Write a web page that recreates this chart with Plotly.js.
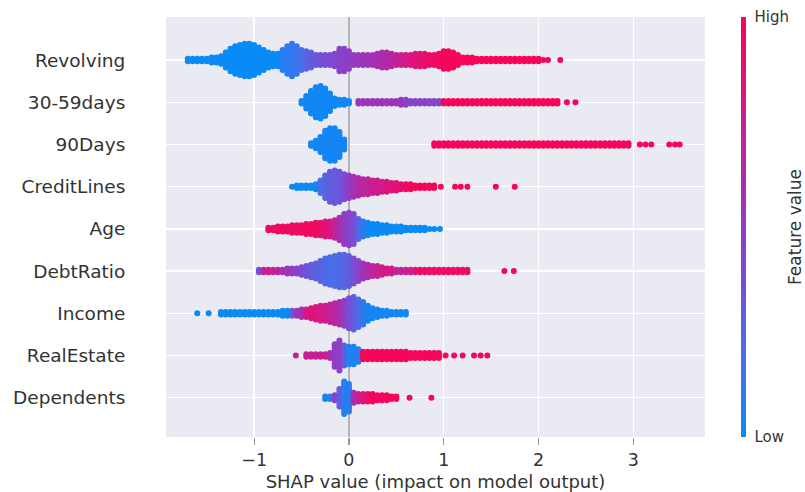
<!DOCTYPE html>
<html><head><meta charset="utf-8">
<script src="https://cdn.plot.ly/plotly-3.0.1.min.js"></script>
<style>html,body{margin:0;padding:0;background:#fff}#chart{width:805px;height:492px}</style>
</head><body><div id="chart"></div>
<script>
// Each feature: density bins of width binWidth (SHAP value), starting at *Start.
// *Counts = number of stacked samples in the bin, *Colors = mean feature value (0 low .. 1 high)
const features = ['Revolving','30-59days','90Days','CreditLines','Age','DebtRatio','Income','RealEstate','Dependents'];
const binWidth = 0.05;

const revolvingStart = -1.70;
const revolvingCounts = [2,2,2,2,2,3,3,4,7,10, 12,13,14,14,13,11,9,7,6,6, 9,12,14,12,9,8,7,5,5,5, 5,6,10,10,8,5,5,5,5,5, 6,7,7,6,5,5,5,5,6,6, 6,5,5,6,8,8,7,5,3,3, 3,2,2,2,2,2,2,2,2,2, 2,2,2,2,2,1,1];
const revolvingColors = [0,0,0,0,0,0,0,0,0,0, 0,0,0,0,0,0,0,0,0,0, 0.08,0.1,0.12,0.15,0.2,0.25,0.3,0.33,0.35,0.38, 0.4,0.42,0.45,0.47,0.48,0.5,0.52,0.54,0.56,0.58, 0.6,0.62,0.65,0.68,0.72,0.76,0.8,0.84,0.88,0.9, 0.92,0.94,0.96,0.98,1,1,1,1,1,1, 1,1,1,1,1,1,1,1,1,1, 1,1,1,1,1,1,1];
const revolvingOutliers = [2.23];
const revolvingOutlierColors = [1];

const days3059Start = -0.50;
const days3059Counts = [2,6,10,13,14,12,8,4,3,3, 2,0, 2,2,2,2,2,2,2,2,2,3, 3,2,2,2,2,2,2,2, 2,2,2,2,2,2,2,2,2,2,2,2,2,2,2,2,2,2,2,2,2,2,2,2,2];
const days3059Colors = [0.02,0.02,0.02,0.02,0.02,0.02,0.02,0.02,0.02,0.02, 0.02,0, 0.55,0.55,0.55,0.55,0.55,0.55,0.55,0.55,0.55,0.55, 0.45,0.45,0.45,0.45,0.45,0.45,0.45,0.45, 1,1,1,1,1,1,1,1,1,1,1,1,1,1,1,1,1,1,1,1,1,1,1,1,1];
const days3059Outliers = [2.30, 2.39];
const days3059OutlierColors = [1, 1];

const days90Start = -0.40;
const days90Counts = [2,4,7,12,14,14,11,5,
  0,0,0,0,0,0,0,0,0,0, 0,0,0,0,0,0,0,0,
  2,2,2,2,2,2,2,2,2,2, 2,2,2,2,2,2,2,2,2,2, 2,2,2,2,2,2,2,2,2,2, 2,2,2,2,2,2,2,2,2,2, 2,2];
const days90Colors = [0.03,0.03,0.03,0.03,0.03,0.03,0.03,0.03,
  0,0,0,0,0,0,0,0,0,0, 0,0,0,0,0,0,0,0,
  1,1,1,1,1,1,1,1,1,1, 1,1,1,1,1,1,1,1,1,1, 1,1,1,1,1,1,1,1,1,1, 1,1,1,1,1,1,1,1,1,1, 1,1];
const days90Outliers = [3.07, 3.13, 3.19, 3.38, 3.44, 3.49];
const days90OutlierColors = [1,1,1,1,1,1];

const creditLinesStart = -0.60;
const creditLinesCounts = [1,2,2,2,2,3,6,10,13,14, 13,11,10,9,8,7,7,6,6,5, 5,4,4,3,3,3,2,2,2,2,2];
const creditLinesColors = [0,0,0,0,0,0, 0.2,0.25,0.3,0.3,0.33,0.4,0.5,0.58,0.64,0.68,0.72,0.75,0.78,0.8,0.83,0.86,0.9,0.92,0.95, 1,1,1,1,1,1];
const creditLinesOutliers = [0.97, 1.12, 1.18, 1.25, 1.55, 1.75];
const creditLinesOutlierColors = [1,1,1,1,1,1];

const ageStart = -0.85;
const ageCounts = [2,2,3,3,3,4,4,4,5,5, 6,6,7,7,8,10,13,14,13,9, 7,6,5,5,4,4,3,3,3,2, 2,2,2,2,1];
const ageColors = [0.97,0.97,0.97,0.97,0.97,0.97,0.97,0.97,0.97,0.97,0.97, 0.92,0.88,0.82,0.72,0.6,0.5,0.45,0.38,0.25,0.12, 0,0,0,0,0,0,0,0,0,0,0,0,0,0];
const ageOutliers = [0.90, 0.96];
const ageOutlierColors = [0, 0];

const debtRatioStart = -0.95;
const debtRatioCounts = [2,2,2,2,2,2,3,3,3,4, 5,6,7,9,11,12,13,14,14,13, 11,9,7,6,5,5,4,3,3, 2,2,2,2,2,2,2,2,2,2,2,2,2,2,2,2];
const debtRatioColors = [0.35,0.75,0.8,0.7,0.75,0.6,0.55,0.5,0.45,0.4, 0.35,0.3,0.28,0.25,0.22,0.2,0.2,0.22,0.25,0.3, 0.38,0.45,0.55,0.62,0.7,0.75,0.78,0.8,0.82, 0.7,0.75,0.7,0.8,0.85, 0.95,0.95,0.95,0.95,0.95,0.95,0.95,0.95,0.95,0.95,0.95];
const debtRatioOutliers = [1.64, 1.74];
const debtRatioOutlierColors = [1, 1];

const incomeStart = -1.35;
const incomeCounts = [2,2,2,2,2,2,2,2,2,2,2,2,2, 3,3,3,3,4,4,5,6,7,7, 8,9,10,11,13,14,12,10,7,5, 4,3,3,2,2,2,2];
const incomeColors = [0,0,0,0,0,0,0,0,0,0,0,0,0,0,0, 0.3,0.55,0.6,0.8,0.85,0.85,0.8,0.78,0.72,0.68, 0.62,0.5,0.38,0.3,0.22,0.12, 0.03,0.03,0.03,0.03,0.03,0.03,0.03,0.03,0.03];
const incomeOutliers = [-1.60, -1.48];
const incomeOutlierColors = [0, 0];

const realEstateStart = -0.45;
const realEstateCounts = [2,2,2,2,2,3,10,13,9,8, 8,6, 4,4,4,4,4,4,4,4,4,4, 3,3,3,3,3,3,3];
const realEstateColors = [0.75,0.75,0.75,0.75,0.75, 0.6,0.5,0.48,0.3,0.08,0.05,0.1, 1,1,1,1,1,1,1,1,1,1,1,1,1,1,1,1,1];
const realEstateOutliers = [-0.56, 1.02, 1.11, 1.20, 1.32, 1.39, 1.46];
const realEstateOutlierColors = [0.8, 1,1,1,1,1,1];

const dependentsStart = -0.25;
const dependentsCounts = [2,2,3,8,14,12,5,4,4,4,4,3,3,3,2,2];
const dependentsColors = [0.05,0.1,0.45,0.3,0.08,0.1,0.6,0.75,0.85,0.92,1,1,1,1,1,1];
const dependentsOutliers = [0.64, 0.87];
const dependentsOutlierColors = [1, 1];

// ---- LAYOUT / RENDER ----
const W = 805, H = 492;
const margin = {l:166, r:100, t:17, b:55};
const xRange = [-1.93, 3.757];
const yRange = [-0.93, 9.02];
const plotH = H - margin.t - margin.b;
const dotGapPx = 2.5;
const dy = dotGapPx * (yRange[1]-yRange[0]) / plotH;

const rows = [
  [revolvingStart, revolvingCounts, revolvingColors, revolvingOutliers, revolvingOutlierColors],
  [days3059Start, days3059Counts, days3059Colors, days3059Outliers, days3059OutlierColors],
  [days90Start, days90Counts, days90Colors, days90Outliers, days90OutlierColors],
  [creditLinesStart, creditLinesCounts, creditLinesColors, creditLinesOutliers, creditLinesOutlierColors],
  [ageStart, ageCounts, ageColors, ageOutliers, ageOutlierColors],
  [debtRatioStart, debtRatioCounts, debtRatioColors, debtRatioOutliers, debtRatioOutlierColors],
  [incomeStart, incomeCounts, incomeColors, incomeOutliers, incomeOutlierColors],
  [realEstateStart, realEstateCounts, realEstateColors, realEstateOutliers, realEstateOutlierColors],
  [dependentsStart, dependentsCounts, dependentsColors, dependentsOutliers, dependentsOutlierColors]
];

const xs = [], ys = [], cs = [];
rows.forEach((r, idx) => {
  const rowY = features.length - 1 - idx;
  const [start, counts, colors, outs, outCols] = r;
  counts.forEach((n, i) => {
    const bx = start + i * binWidth;
    for (let k = 0; k < n; k++) {
      xs.push(bx);
      ys.push(rowY + (k - (n - 1) / 2) * dy);
      cs.push(colors[i]);
    }
  });
  outs.forEach((ox, j) => { xs.push(ox); ys.push(rowY); cs.push(outCols[j]); });
});

const colorscale = [[0,'#0a8af5'],[0.2,'#4a6ee8'],[0.4,'#7c4ad2'],[0.5,'#923cc2'],[0.6,'#a82fb0'],[0.8,'#d21a88'],[1,'#f5065a']];
const font = {family:'DejaVu Sans, sans-serif', color:'#333'};

const trace = {
  type:'scatter', mode:'markers', x: xs, y: ys, hoverinfo:'skip',
  marker: {
    size: 6, color: cs, colorscale: colorscale, cmin: 0, cmax: 1, line:{width:0},
    showscale: true,
    colorbar: {
      x: (741 - margin.l) / (W - margin.l - margin.r), xanchor:'left', xref:'paper',
      y: 0.5, yanchor:'middle', len: 1, lenmode:'fraction', thickness: 5,
      xpad: 0, ypad: 0, outlinewidth: 0,
      tickvals:[0,1], ticktext:['Low','High'], ticks:'outside', ticklen:6, tickcolor:'rgba(0,0,0,0)',
      tickfont: {family: font.family, color:'#333', size: 15}
    }
  }
};

const layout = {
  width: W, height: H, margin: margin,
  paper_bgcolor:'#ffffff', plot_bgcolor:'#eaeaf2',
  font: font, showlegend:false,
  xaxis: {
    range: xRange, tickvals:[-1,0,1,2,3], ticks:'outside', ticklen:7, tickcolor:'#9a9a9a', tickwidth:1.2,
    tickfont:{size:17.5, color:'#333'}, showgrid:true, gridcolor:'#ffffff', gridwidth:1.5,
    zeroline:true, zerolinecolor:'#b4b4b4', zerolinewidth:1.5, showline:false,
    title:{text:'SHAP value (impact on model output)', font:{size:18, color:'#333'}, standoff: 6}
  },
  yaxis: {
    range: yRange, tickvals: features.map((f,i)=>features.length-1-i), ticktext: features,
    ticks:'outside', ticklen:36, tickcolor:'rgba(0,0,0,0)',
    tickfont:{size:18.5, color:'#333'}, showgrid:true, gridcolor:'#ffffff', gridwidth:1.5,
    zeroline:false, showline:false
  },
  annotations: [{
    text:'Feature value', xref:'paper', yref:'paper', x:(795 - margin.l)/(W - margin.l - margin.r), y:0.5,
    showarrow:false, textangle:-90, font:{size:17, color:'#333'}, xanchor:'center', yanchor:'middle'
  }]
};

Plotly.newPlot('chart', [trace], layout, {displayModeBar:false, staticPlot:true});
</script>
</body></html>
